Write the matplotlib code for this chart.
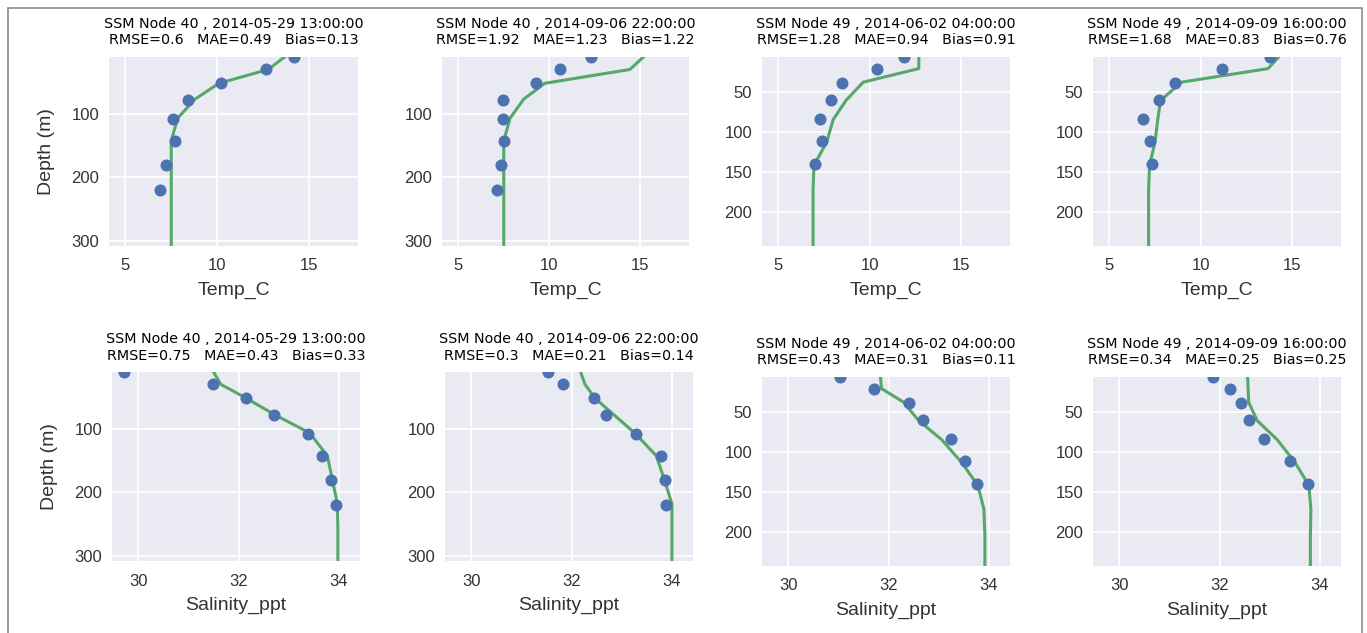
import matplotlib
matplotlib.use("Agg")
import matplotlib.pyplot as plt
from matplotlib.patches import Rectangle

# ---------------- data ----------------
obs_depth_n40 = [10, 28, 51, 78, 108, 143, 180, 220]
obs_depth_n49 = [7, 21, 39, 60, 84, 111, 140]
mod_depth_n40 = [9, 29, 51, 76, 106, 142, 180, 218, 260, 310]
mod_depth_n49 = [6, 21, 38, 61, 85, 113, 142, 172, 205, 245]

temp_obs_n40_0529 = [14.2, 12.7, 10.2, 8.4, 7.6, 7.7, 7.2, 6.9]
temp_mod_n40_0529 = [13.7, 12.8, 10.1, 8.8, 7.85, 7.5, 7.5, 7.5, 7.5, 7.5]
temp_obs_n40_0906 = [12.3, 10.6, 9.3, 7.45, 7.45, 7.5, 7.35, 7.15]
temp_mod_n40_0906 = [15.2, 14.45, 9.75, 8.6, 7.85, 7.5, 7.5, 7.5, 7.5, 7.5]
temp_obs_n49_0602 = [11.9, 10.4, 8.5, 7.9, 7.3, 7.4, 7.0]
temp_mod_n49_0602 = [12.7, 12.7, 9.65, 8.7, 8.0, 7.65, 6.95, 6.9, 6.9, 6.9]
temp_obs_n49_0909 = [13.8, 11.2, 8.6, 7.7, 6.85, 7.2, 7.35]
temp_mod_n49_0909 = [14.3, 13.7, 8.95, 7.8, 7.65, 7.5, 7.2, 7.15, 7.15, 7.15]

sal_obs_n40_0529 = [29.72, 31.5, 32.15, 32.7, 33.39, 33.67, 33.85, 33.94]
sal_mod_n40_0529 = [31.5, 31.65, 32.16, 32.7, 33.42, 33.77, 33.87, 33.97, 33.98, 33.98]
sal_obs_n40_0906 = [31.53, 31.84, 32.45, 32.69, 33.28, 33.79, 33.87, 33.89]
sal_mod_n40_0906 = [32.18, 32.27, 32.47, 32.83, 33.26, 33.69, 33.85, 34.0, 34.0, 34.0]
sal_obs_n49_0602 = [31.03, 31.71, 32.4, 32.68, 33.24, 33.53, 33.77]
sal_mod_n49_0602 = [31.84, 31.86, 32.3, 32.6, 33.06, 33.45, 33.78, 33.9, 33.92, 33.92]
sal_obs_n49_0909 = [31.88, 32.2, 32.43, 32.58, 32.89, 33.41, 33.76]
sal_mod_n49_0909 = [32.56, 32.57, 32.58, 32.75, 33.15, 33.5, 33.78, 33.82, 33.81, 33.81]

titles = [
    "SSM Node 40 , 2014-05-29 13:00:00\nRMSE=0.6   MAE=0.49   Bias=0.13",
    "SSM Node 40 , 2014-09-06 22:00:00\nRMSE=1.92   MAE=1.23   Bias=1.22",
    "SSM Node 49 , 2014-06-02 04:00:00\nRMSE=1.28   MAE=0.94   Bias=0.91",
    "SSM Node 49 , 2014-09-09 16:00:00\nRMSE=1.68   MAE=0.83   Bias=0.76",
    "SSM Node 40 , 2014-05-29 13:00:00\nRMSE=0.75   MAE=0.43   Bias=0.33",
    "SSM Node 40 , 2014-09-06 22:00:00\nRMSE=0.3   MAE=0.21   Bias=0.14",
    "SSM Node 49 , 2014-06-02 04:00:00\nRMSE=0.43   MAE=0.31   Bias=0.11",
    "SSM Node 49 , 2014-09-09 16:00:00\nRMSE=0.34   MAE=0.25   Bias=0.25",
]
xlabels = ["Temp_C"] * 4 + ["Salinity_ppt"] * 4
temp_ticks = [5, 10, 15]
sal_ticks = [30, 32, 34]
depth_ticks_n40 = [100, 200, 300]
depth_ticks_n49 = [50, 100, 150, 200]

panels = [
    (obs_depth_n40, temp_obs_n40_0529, mod_depth_n40, temp_mod_n40_0529),
    (obs_depth_n40, temp_obs_n40_0906, mod_depth_n40, temp_mod_n40_0906),
    (obs_depth_n49, temp_obs_n49_0602, mod_depth_n49, temp_mod_n49_0602),
    (obs_depth_n49, temp_obs_n49_0909, mod_depth_n49, temp_mod_n49_0909),
    (obs_depth_n40, sal_obs_n40_0529, mod_depth_n40, sal_mod_n40_0529),
    (obs_depth_n40, sal_obs_n40_0906, mod_depth_n40, sal_mod_n40_0906),
    (obs_depth_n49, sal_obs_n49_0602, mod_depth_n49, sal_mod_n49_0602),
    (obs_depth_n49, sal_obs_n49_0909, mod_depth_n49, sal_mod_n49_0909),
]

# ---------------- layout ----------------
W, H = 1367, 633
boxes = [  # left, top, right, bottom in pixels
    (109, 57, 358, 246), (442, 57, 689, 246), (762, 57, 1010, 246), (1093, 57, 1341, 246),
    (112, 372, 360, 561), (445, 372, 693, 561), (762, 377, 1010, 566), (1093, 377, 1341, 566),
]

fig = plt.figure(figsize=(W / 100, H / 100), dpi=100)
fig.patch.set_facecolor("white")
fig.patches.append(Rectangle((8 / W, -0.05), (1362 - 8) / W, 1.05 - 8 / H,
                             transform=fig.transFigure, fill=False,
                             edgecolor="#8c8c8c", linewidth=1.2))

for i, (box, (od, ov, md, mv)) in enumerate(zip(boxes, panels)):
    l, t, r, b = box
    ax = fig.add_axes([l / W, 1 - b / H, (r - l) / W, (b - t) / H])
    ax.set_facecolor("#EAEAF2")
    for s in ax.spines.values():
        s.set_visible(False)
    ax.grid(True, color="white", linewidth=1.3)
    ax.set_axisbelow(True)
    ax.plot(mv, md, color="#55A868", linewidth=2.2, zorder=3)
    ax.scatter(ov, od, s=75, color="#4C72B0", zorder=4, linewidths=0)
    node40 = (i % 4) < 2
    if i < 4:
        ax.set_xlim(4.1, 17.7)
        ax.set_xticks(temp_ticks)
    else:
        ax.set_xlim(29.48, 34.42)
        ax.set_xticks(sal_ticks)
    if node40:
        ax.set_ylim(308.5, 9.3)
        ax.set_yticks(depth_ticks_n40)
    else:
        ax.set_ylim(243, 6.5)
        ax.set_yticks(depth_ticks_n49)
    ax.tick_params(axis="x", length=0, pad=9, colors="#333333")
    ax.tick_params(axis="y", length=0, pad=7, colors="#333333")
    for lab in ax.get_xticklabels() + ax.get_yticklabels():
        lab.set_fontfamily("Liberation Sans")
        lab.set_fontsize(12)
    ax.set_xlabel(xlabels[i], fontfamily="Liberation Sans", fontsize=14,
                  color="#333333", labelpad=6)
    if i % 4 == 0:
        ax.set_ylabel("Depth (m)", fontfamily="Liberation Sans", fontsize=14,
                      color="#333333", labelpad=12)
    ax.set_title(titles[i], fontfamily="DejaVu Sans", fontsize=10.3,
                 linespacing=1.2, pad=9)

fig.savefig("out.png", dpi=100, facecolor="white")
